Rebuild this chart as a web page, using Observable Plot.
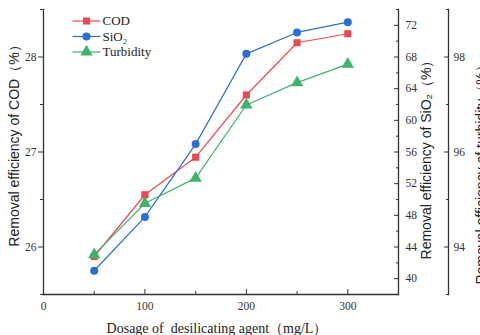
<!DOCTYPE html>
<html><head><meta charset="utf-8">
<script src="https://cdn.jsdelivr.net/npm/d3@7"></script>
<script src="https://cdn.jsdelivr.net/npm/@observablehq/plot@0.6"></script>
<style>
html,body{margin:0;padding:0;background:#fff;}
#chart{width:480px;height:335px;overflow:hidden;}
</style></head><body><div id="chart"></div>
<script>
// ---- data ----
const dosage = [50, 100, 150, 200, 250, 300];
const codRemoval = [25.90, 26.55, 26.945, 27.60, 28.15, 28.245];
const sio2Removal = [41.0, 47.8, 57.0, 68.4, 71.1, 72.4];
const turbidityRemoval = [93.84, 94.92, 95.45, 96.99, 97.46, 97.85];

const seriesNames = ["COD", "SiO\u2082", "Turbidity"];
const xTicks = [0, 100, 200, 300];
const xMinorTicks = [50, 150, 250, 350];
const codTicks = [26, 27, 28];
const codMinorTicks = [25.5, 26.5, 27.5, 28.5];
const sio2Ticks = [40, 44, 48, 52, 56, 60, 64, 68, 72];
const sio2MinorTicks = [38, 42, 46, 50, 54, 58, 62, 66, 70, 74];
const turbTicks = [94, 96, 98];
const turbMinorTicks = [93, 95, 97, 99];

const xTitle = "Dosage of  desilicating agent\uff08mg/L\uff09";
const codTitle = "Removal efficiency of COD\uff08%\uff09";
const sio2Title = "Removal efficiency of SiO\u2082\uff08%\uff09";
const turbTitle = "Removal efficiency of turbidity\uff08%\uff09";

// ---- style ----
const colors = ["#ea4a4f", "#2b6fcf", "#3db36c"];
const symbols = ["square", "circle", "triangle"];
const serif = "'Liberation Serif', 'Times New Roman', serif";
const sans = "'Liberation Sans', Arial, sans-serif";
const ink = "#333";

// secondary axes mapped onto the COD scale
const sio2ToCod = v => 26 + (v - 44) / 12;
const codToSio2 = c => 44 + (c - 26) * 12;
const turbToCod = v => 26 + (v - 94) / 2;
const codToTurb = c => 94 + (c - 26) * 2;

const rows = dosage.map((x, i) => ({
  x,
  cod: codRemoval[i],
  sio2: sio2ToCod(sio2Removal[i]),
  turb: turbToCod(turbidityRemoval[i])
}));
const keys = ["cod", "sio2", "turb"];

const lineSymbol = {draw(ctx) { ctx.moveTo(-14, 0); ctx.lineTo(14, 0); }};
const blank = () => "";

const marks = [
  // axis lines
  Plot.frame({anchor: "left", stroke: ink, strokeWidth: 1.3}),
  Plot.frame({anchor: "bottom", stroke: ink, strokeWidth: 1.3}),
  Plot.frame({anchor: "right", stroke: ink, strokeWidth: 1.3}),
  Plot.frame({anchor: "right", dx: 50, stroke: ink, strokeWidth: 1.3}),
  // left COD axis
  Plot.axisY(codTicks, {anchor: "left", tickSize: 5, tickFormat: blank, stroke: ink, label: null}),
  Plot.axisY(codTicks, {anchor: "left", tickSize: 0, tickPadding: 7, tickFormat: d => String(d), fontFamily: serif, fontSize: 11.5, fill: ink, label: null}),
  Plot.axisY(codMinorTicks, {anchor: "left", tickSize: 3, tickFormat: blank, stroke: ink, label: null}),
  // bottom x axis (ticks inward)
  Plot.axisX(xTicks, {anchor: "bottom", tickSize: -5, tickFormat: blank, stroke: ink, label: null}),
  Plot.axisX(xMinorTicks, {anchor: "bottom", tickSize: -3, tickFormat: blank, stroke: ink, label: null}),
  Plot.axisX(xTicks, {anchor: "bottom", tickSize: 0, tickPadding: 7, tickFormat: d => String(d), fontFamily: serif, fontSize: 11.5, fill: ink, label: null}),
  // right SiO2 axis
  Plot.axisY(sio2Ticks.map(sio2ToCod), {anchor: "right", tickSize: -5, tickFormat: blank, stroke: ink, label: null}),
  Plot.axisY(sio2MinorTicks.map(sio2ToCod), {anchor: "right", tickSize: -3, tickFormat: blank, stroke: ink, label: null}),
  Plot.axisY(sio2Ticks.map(sio2ToCod), {anchor: "right", tickSize: 0, tickPadding: 7, tickFormat: c => String(Math.round(codToSio2(c))), fontFamily: serif, fontSize: 11.5, fill: ink, label: null}),
  // far right turbidity axis
  Plot.axisY(turbTicks.map(turbToCod), {anchor: "right", dx: 50, tickSize: -5, tickFormat: blank, stroke: ink, label: null}),
  Plot.axisY(turbMinorTicks.map(turbToCod), {anchor: "right", dx: 50, tickSize: -3, tickFormat: blank, stroke: ink, label: null}),
  Plot.axisY(turbTicks.map(turbToCod), {anchor: "right", dx: 50, tickSize: 0, tickPadding: 5, tickFormat: c => String(Math.round(codToTurb(c))), fontFamily: serif, fontSize: 11.5, fill: ink, label: null}),
  // titles
  Plot.text([codTitle], {text: d => d, frameAnchor: "left", textAnchor: "middle", lineAnchor: "middle", rotate: -90, dx: -29, dy: -9.5, fontFamily: sans, fontSize: 14, fill: "#222"}),
  Plot.text([sio2Title], {text: d => d, frameAnchor: "right", textAnchor: "middle", lineAnchor: "middle", rotate: -90, dx: 28, dy: 4.5, fontFamily: sans, fontSize: 14, fill: "#222"}),
  Plot.text([turbTitle], {text: d => d, frameAnchor: "right", textAnchor: "middle", lineAnchor: "middle", rotate: -90, dx: 83, dy: 19.5, fontFamily: sans, fontSize: 14, fill: "#222"}),
  Plot.text([xTitle], {text: d => d, frameAnchor: "bottom", textAnchor: "middle", lineAnchor: "middle", dx: -4, dy: 34, fontFamily: serif, fontSize: 14, fill: "#222"}),
];

keys.forEach((k, i) => {
  marks.push(Plot.line(rows, {x: "x", y: k, stroke: colors[i], strokeWidth: 1.2}));
});
keys.forEach((k, i) => {
  marks.push(Plot.dot(rows, {x: "x", y: k, symbol: symbols[i], fill: colors[i], r: i === 2 ? 4.6 : 4}));
});

// legend
seriesNames.forEach((name, i) => {
  const dy = 11.5 + 15.5 * i;
  marks.push(Plot.dot([name], {frameAnchor: "top-left", dx: 43, dy, symbol: lineSymbol, stroke: colors[i], strokeWidth: 1.2, fill: "none"}));
  marks.push(Plot.dot([name], {frameAnchor: "top-left", dx: 43, dy, symbol: symbols[i], fill: colors[i], r: i === 2 ? 4.6 : 4}));
  marks.push(Plot.text([name], {text: d => d, frameAnchor: "top-left", dx: 59, dy, textAnchor: "start", lineAnchor: "middle", fontFamily: serif, fontSize: 13, fill: "#222"}));
});

const chart = Plot.plot({
  width: 480,
  height: 335,
  marginLeft: 43,
  marginRight: 82,
  marginTop: 9,
  marginBottom: 41,
  style: {background: "#fff", fontFamily: serif},
  x: {domain: [0, 350]},
  y: {domain: [25.5, 28.5]},
  marks
});
document.getElementById("chart").appendChild(chart);
</script>
</body></html>
